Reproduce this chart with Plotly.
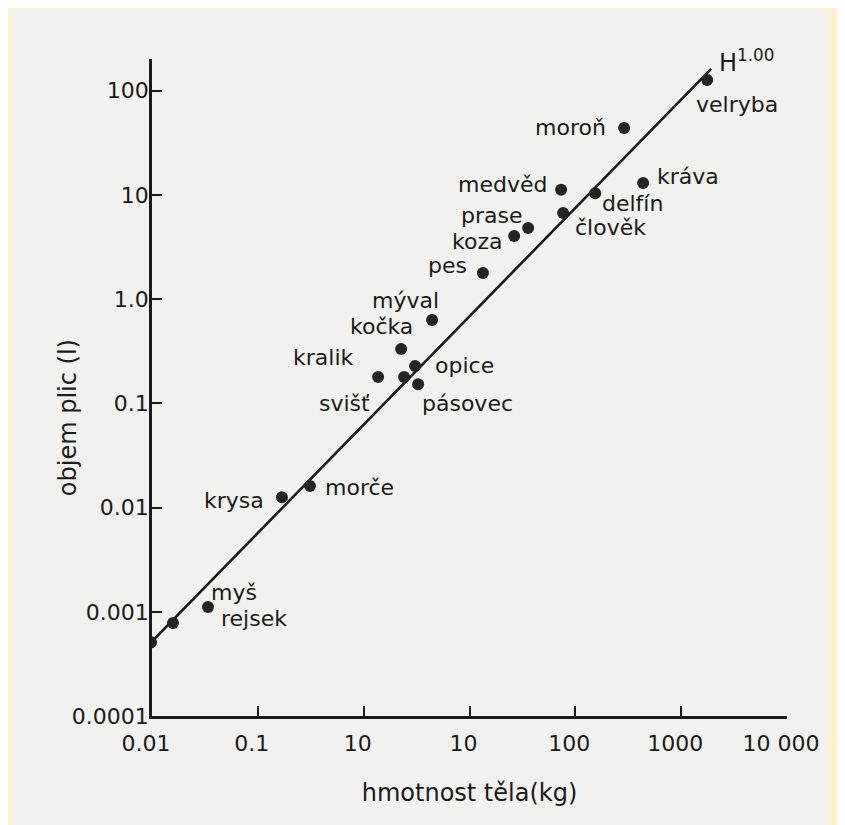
import math
import plotly.graph_objects as go

# ---- data ----
animals = ["netopýr", "rejsek", "myš", "krysa", "morče", "kralik", "svišť", "opice",
           "pásovec", "kočka", "mýval", "pes", "koza", "prase", "člověk", "medvěd",
           "delfín", "kráva", "moroň", "velryba"]
body_mass_kg = [0.0098, 0.0158, 0.0338, 0.169, 0.311, 1.37, 2.41, 3.06,
                3.27, 2.26, 4.43, 13.4, 26.4, 35.8, 76.7, 73.4,
                154, 437, 289, 1761]
lung_volume_l = [0.00051, 0.00078, 0.00111, 0.0126, 0.0161, 0.179, 0.179, 0.229,
                 0.153, 0.333, 0.631, 1.78, 4.04, 4.82, 6.72, 11.2,
                 10.4, 13.0, 44.0, 127]

fit_mass_kg = [0.0098, 1921]
fit_volume_l = [0.00051, 162]
fit_label = "H<sup>1.00</sup>"

x_tickvals = [0.01, 0.1, 1, 10, 100, 1000, 10000]
x_ticktext = ["0.01", "0.1", "10", "10", "100", "1000", "10 000"]
y_tickvals = [0.0001, 0.001, 0.01, 0.1, 1, 10, 100]
y_ticktext = ["0.0001", "0.001", "0.01", "0.1", "1.0", "10", "100"]

x_title = "hmotnost těla(kg)"
y_title = "objem plic (l)"

# label offsets in pixels (layout only)
label_dx = [50, 81, 26, -48, 50, -55, -60, 49, 49, -20, -27, -35, -37, -36, 47, -59, 37, 45, -54, 30]
label_dy = [-13, 5, 15, -3, -1, 20, -26, 0, -19, 22, 20, 8, -5, 13, -15, 5, -10, 7, 0, -25]

INK = "#1a1a1a"
FONT = "'DejaVu Sans', sans-serif"

fig = go.Figure()
fig.add_trace(go.Scatter(x=fit_mass_kg, y=fit_volume_l, mode="lines",
                         line=dict(color=INK, width=2.6), hoverinfo="skip", showlegend=False))
fig.add_trace(go.Scatter(x=body_mass_kg, y=lung_volume_l, mode="markers",
                         marker=dict(color="#242424", size=12), text=animals,
                         showlegend=False))

for name, xv, yv, dx, dy in zip(animals, body_mass_kg, lung_volume_l, label_dx, label_dy):
    fig.add_annotation(x=math.log10(xv), y=math.log10(yv), xref="x", yref="y",
                       text=name, showarrow=False,
                       xanchor="center", yanchor="middle", xshift=dx, yshift=dy,
                       font=dict(size=22, color=INK, family=FONT))

fig.add_annotation(x=math.log10(fit_mass_kg[1]), y=math.log10(fit_volume_l[1]),
                   xref="x", yref="y", text=fit_label, showarrow=False,
                   xanchor="left", yanchor="middle", xshift=6, yshift=8,
                   font=dict(size=24, color=INK, family=FONT))

fig.add_annotation(x=-0.132, y=0.4536, xref="paper", yref="paper", text=y_title,
                   showarrow=False, textangle=-90, xanchor="center", yanchor="middle",
                   font=dict(size=24, color=INK, family=FONT))

# scanned-page background
fig.add_shape(type="rect", xref="paper", yref="paper", x0=-0.2205, x1=1.0646, y0=-0.3, y1=1.0746,
              fillcolor="#f1f1ef", line=dict(width=0), layer="below")

fig.update_xaxes(type="log", range=[-2, 4], tickvals=x_tickvals, ticktext=x_ticktext,
                 ticks="inside", ticklen=10, tickwidth=2, tickcolor=INK,
                 showline=True, linecolor=INK, linewidth=2.5, mirror=False,
                 showgrid=False, zeroline=False, ticklabelshift=-6, ticklabelstandoff=6,
                 tickfont=dict(size=22, color=INK, family=FONT),
                 title=dict(text=x_title, font=dict(size=24, color=INK, family=FONT), standoff=30))
fig.update_yaxes(type="log", range=[-4, 2.305], tickvals=y_tickvals, ticktext=y_ticktext,
                 ticks="inside", ticklen=10, tickwidth=2, tickcolor=INK,
                 showline=True, linecolor=INK, linewidth=2.5, mirror=False,
                 showgrid=False, zeroline=False, ticklabelstandoff=-4,
                 tickfont=dict(size=22, color=INK, family=FONT))

fig.update_layout(width=845, height=825, margin=dict(l=144, r=66, t=51, b=117),
                  paper_bgcolor="#fff1cf", plot_bgcolor="rgba(0,0,0,0)",
                  showlegend=False, font=dict(family=FONT, color=INK))

fig.write_html("out.html")
